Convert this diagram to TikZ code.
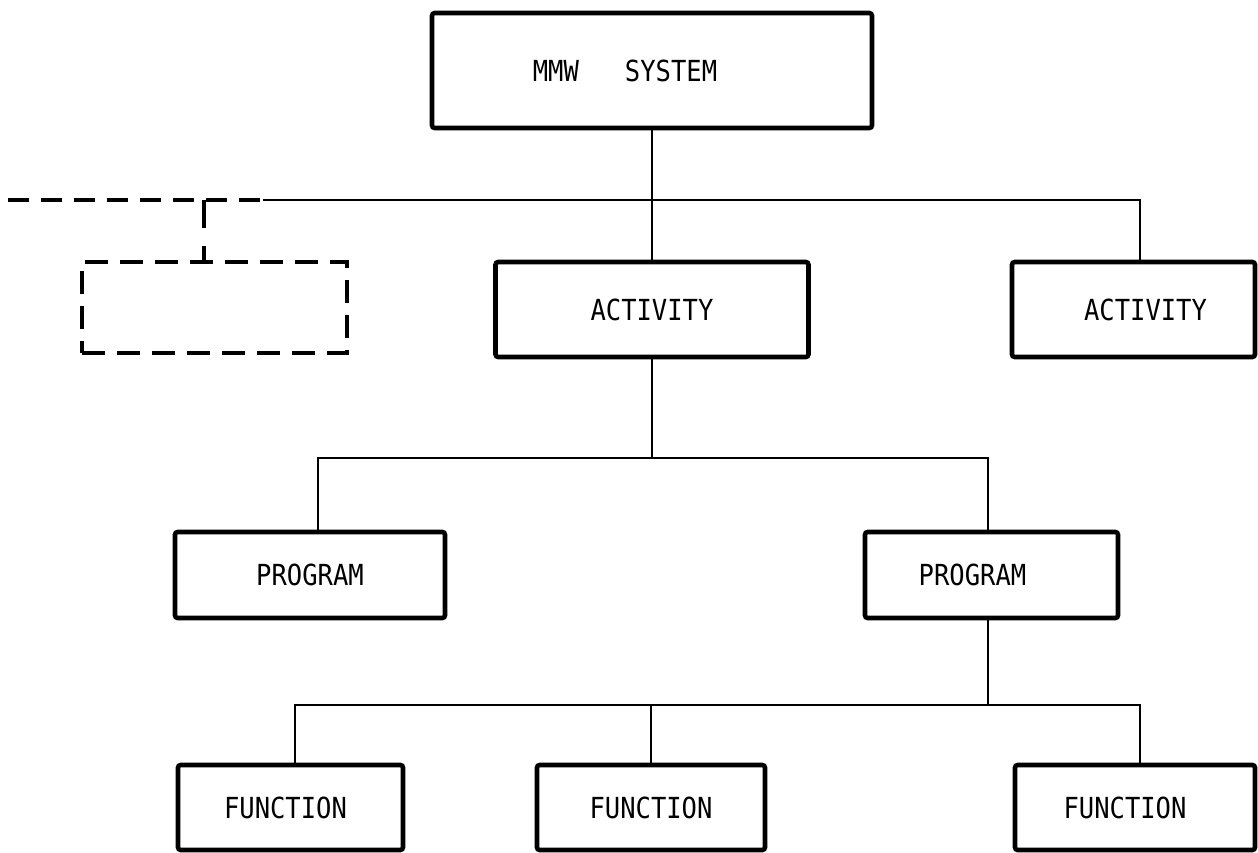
\documentclass[tikz,border=0pt]{standalone}
\usepackage{fontspec}
\newfontfamily\monofont[FakeStretch=0.88]{DejaVu Sans Mono}
\tikzset{
  box/.style={draw, line width=2.6pt, rounded corners=1.5pt, inner sep=0pt, font=\monofont\fontsize{16.5}{19}\selectfont},
  sparebox/.style={draw, line width=2.6pt, dash pattern=on 0.46cm off 0.24cm, inner sep=0pt},
  link/.style={line width=1.5pt},
  dashlink/.style={line width=2.6pt, dash pattern=on 0.42cm off 0.24cm}
}

\begin{document}
\begin{tikzpicture}
\useasboundingbox (0,0) rectangle (25.16,-17.06);

\node[box, minimum width=8.8cm, minimum height=2.3cm] (sys) at (13.04,-1.41) {\hspace*{-1.08cm}MMW\ \ \ SYSTEM};
\node[box, minimum width=6.26cm, minimum height=1.9cm] (act1) at (13.04,-6.19) {ACTIVITY};
\node[box, minimum width=4.86cm, minimum height=1.9cm] (act2) at (22.67,-6.19) {ACTIVITY\hspace*{-0.48cm}};
\node[sparebox, minimum width=5.3cm, minimum height=1.82cm] (spare) at (4.29,-6.15) {};
\node[box, minimum width=5.4cm, minimum height=1.72cm] (prog1) at (6.2,-11.5) {PROGRAM};
\node[box, minimum width=5.06cm, minimum height=1.72cm] (prog2) at (19.83,-11.5) {\hspace*{-0.76cm}PROGRAM};
\node[box, minimum width=4.5cm, minimum height=1.7cm] (fun1) at (5.81,-16.15) {\hspace*{-0.2cm}FUNCTION};
\node[box, minimum width=4.56cm, minimum height=1.7cm] (fun2) at (13.02,-16.15) {FUNCTION};
\node[box, minimum width=4.8cm, minimum height=1.7cm] (fun3) at (22.7,-16.15) {\hspace*{-0.4cm}FUNCTION};

\coordinate (busD) at (0.16,-4.0);
\coordinate (busL) at (5.26,-4.0);
\coordinate (busR) at (22.8,-4.0);
\coordinate (tap) at (4.08,-4.0);
\draw[link] (sys) -- (act1);
\draw[link] (busL) -- (busR) -- (busR |- act2.north);
\draw[dashlink] (busD) -- (busL);
\draw[dashlink, dash pattern=on 0.56cm off 0.36cm] (tap) -- (tap |- spare.north);

\coordinate (progL) at (6.36,-9.16);
\coordinate (progR) at (19.76,-9.16);
\draw[link] (act1) -- (act1 |- progL);
\draw[link] (progL |- prog1.north) -- (progL) -- (progR) -- (progR |- prog2.north);

\coordinate (funL) at (5.9,-14.1);
\coordinate (funR) at (22.8,-14.1);
\draw[link] (progR |- prog2.south) -- (progR |- funL);
\draw[link] (funL |- fun1.north) -- (funL) -- (funR) -- (funR |- fun3.north);
\draw[link] (fun2.north) -- (fun2 |- funL);
\end{tikzpicture}
\end{document}
